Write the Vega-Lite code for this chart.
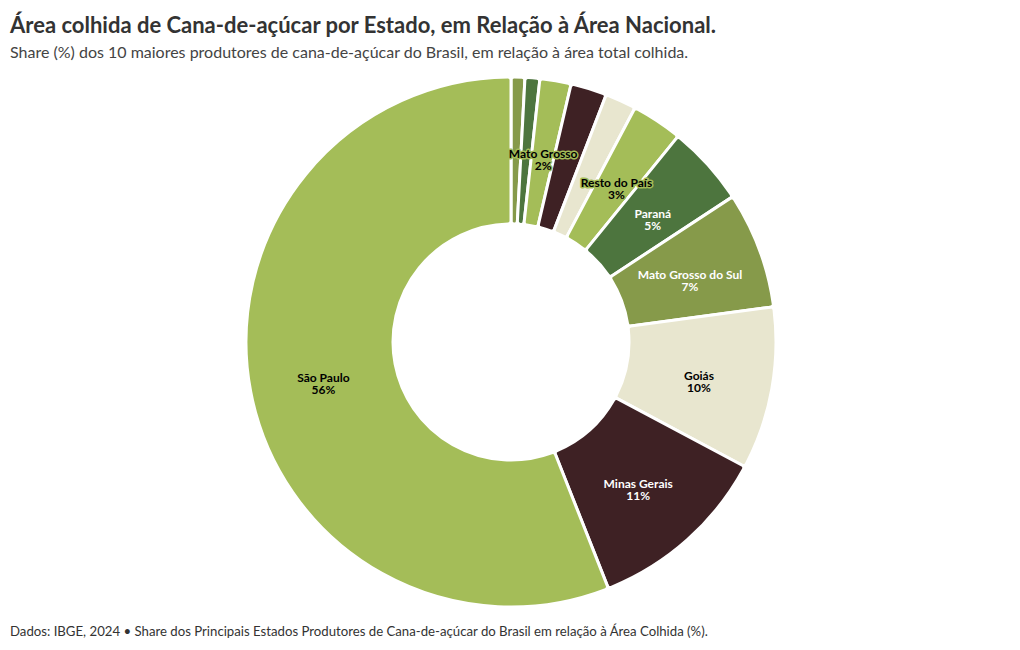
{
  "$schema": "https://vega.github.io/schema/vega-lite/v6.json",
  "padding": {"left": 10, "top": 15, "right": 8, "bottom": 2},
  "background": "white",
  "config": {"view": {"stroke": null}, "font": "Lato"},
  "title": {
    "text": "Dados: IBGE, 2024 • Share dos Principais Estados Produtores de Cana-de-açúcar do Brasil em relação à Área Colhida (%).",
    "orient": "bottom",
    "anchor": "start",
    "frame": "group",
    "fontSize": 13.2,
    "fontWeight": "normal",
    "color": "#333333",
    "font": "Lato",
    "offset": 11
  },
  "vconcat": [
    {
      "title": {
        "text": "Área colhida de Cana-de-açúcar por Estado, em Relação à Área Nacional.",
        "subtitle": "Share (%) dos 10 maiores produtores de cana-de-açúcar do Brasil, em relação à área total colhida.",
        "anchor": "start",
        "frame": "group",
        "fontSize": 22,
        "fontWeight": "bold",
        "color": "#333333",
        "font": "Lato",
        "subtitleFontSize": 16,
        "subtitleColor": "#444444",
        "subtitleFont": "Lato",
        "subtitlePadding": 7,
        "offset": 7
      },
      "width": 1002,
      "height": 546,
      "data": {
        "values": [
          {"estado": "Bahia", "share": 0.84, "ordem": 1},
          {"estado": "Paraíba", "share": 0.9, "ordem": 2},
          {"estado": "Mato Grosso", "share": 1.9, "ordem": 3},
          {"estado": "Alagoas", "share": 2.2, "ordem": 4},
          {"estado": "Pernambuco", "share": 1.9, "ordem": 5},
          {"estado": "Resto do País", "share": 3.1, "ordem": 6},
          {"estado": "Paraná", "share": 4.9, "ordem": 7},
          {"estado": "Mato Grosso do Sul", "share": 7.1, "ordem": 8},
          {"estado": "Goiás", "share": 9.9, "ordem": 9},
          {"estado": "Minas Gerais", "share": 11.2, "ordem": 10},
          {"estado": "São Paulo", "share": 55.9, "ordem": 11}
        ]
      },
      "transform": [
        {"calculate": "indexof(['Mato Grosso','Resto do País','Paraná','Mato Grosso do Sul','Goiás','Minas Gerais','São Paulo'], datum.estado) >= 0 ? datum.estado + '\\n' + format(datum.share, '.0f') + '%' : ''", "as": "rotulo"},
        {"calculate": "indexof(['Mato Grosso','Resto do País'], datum.estado) >= 0 ? datum.rotulo : ''", "as": "halo"}
      ],
      "encoding": {
        "theta": {"field": "share", "type": "quantitative", "stack": true},
        "order": {"field": "ordem", "type": "quantitative", "sort": "ascending"}
      },
      "layer": [
        {
          "mark": {"type": "arc", "innerRadius": 118, "outerRadius": 265, "stroke": "white", "strokeWidth": 3, "cornerRadius": 3},
          "encoding": {
            "color": {
              "field": "estado",
              "type": "nominal",
              "legend": null,
              "scale": {
                "domain": ["Bahia", "Paraíba", "Mato Grosso", "Alagoas", "Pernambuco", "Resto do País", "Paraná", "Mato Grosso do Sul", "Goiás", "Minas Gerais", "São Paulo"],
                "range": ["#869a4a", "#4d753e", "#a4bd58", "#3e2124", "#e8e6cf", "#a4bd58", "#4d753e", "#869a4a", "#e8e6cf", "#3e2124", "#a4bd58"]
              }
            }
          }
        },
        {
          "mark": {"type": "text", "radius": 191, "fontSize": 12, "fontWeight": "bold", "font": "Lato", "lineBreak": "\n", "lineHeight": 12, "strokeWidth": 3, "strokeJoin": "round", "stroke": "#a4bd58", "fill": "#a4bd58"},
          "encoding": {
            "text": {"field": "halo", "type": "nominal"}
          }
        },
        {
          "mark": {"type": "text", "radius": 191, "fontSize": 12, "fontWeight": "bold", "font": "Lato", "lineBreak": "\n", "lineHeight": 12},
          "encoding": {
            "text": {"field": "rotulo", "type": "nominal"},
            "color": {
              "condition": {"test": "indexof(['Minas Gerais','Paraná','Mato Grosso do Sul'], datum.estado) >= 0", "value": "#ffffff"},
              "value": "#000000"
            }
          }
        }
      ]
    }
  ]
}
